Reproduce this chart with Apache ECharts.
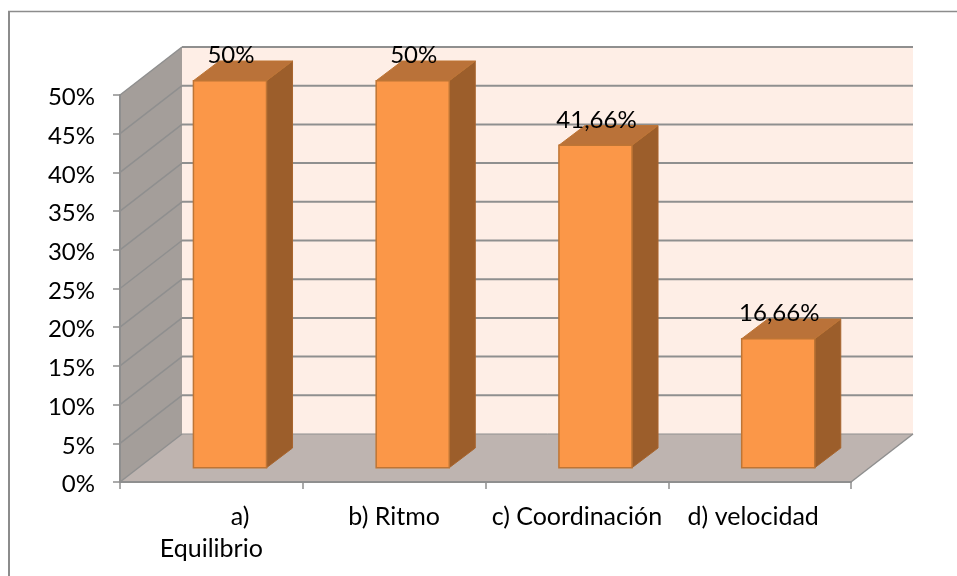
<!DOCTYPE html>
<html><head><meta charset="utf-8">
<style>html,body{margin:0;padding:0;background:#fff}#c{width:957px;height:576px}</style>
<script src="https://cdn.jsdelivr.net/npm/echarts@6/dist/echarts.min.js"></script>
</head><body><div id="c"></div>
<script>
var categories = ['\u00a0\u00a0\u00a0\u00a0\u00a0\u00a0\u00a0\u00a0\u00a0a)\nEquilibrio', 'b) Ritmo', 'c) Coordinación', 'd) velocidad\u00a0\u00a0'];
var values = [50, 50, 41.66, 16.66];
var valueLabels = ['50%', '50%', '41,66%', '16,66%'];
var yTicks = [0, 5, 10, 15, 20, 25, 30, 35, 40, 45, 50];

var FONT = 'Lato';
var DX = 62, DY = -48;           // depth of the chart box
var BAR_DX0 = 18.6, BAR_DY0 = -14.3; // front face of bars within box
var BAR_DX = 26, BAR_DY = -19.7;  // depth of bars
var GRID = '#8f8f8f';

function poly(pts, fill, stroke, w) {
  return {type:'polygon', shape:{points:pts}, style:{fill:fill, stroke:stroke||null, lineWidth:w||0}};
}
function line(pts, w) {
  return {type:'polyline', shape:{points:pts}, style:{fill:null, stroke:GRID, lineWidth:w}};
}
function renderBox(params, api) {
  var c = params.coordSys, x0 = c.x, x1 = c.x + c.width, yB = c.y + c.height, yT = c.y;
  var ch = [];
  ch.push(poly([[x0+DX,yT+DY],[x1+DX,yT+DY],[x1+DX,yB+DY],[x0+DX,yB+DY]], '#FEEEE6'));
  ch.push(poly([[x0,yT],[x0+DX,yT+DY],[x0+DX,yB+DY],[x0,yB]], '#A49E9A'));
  ch.push(poly([[x0,yB],[x1,yB],[x1+DX,yB+DY],[x0+DX,yB+DY]], '#BEB4B0'));
  yTicks.forEach(function (t) {
    var y = api.coord([0, t])[1];
    ch.push(line([[x0,y],[x0+DX,y+DY]], 1.5));
    ch.push(line([[x0+DX,y+DY],[x1+DX,y+DY]], t === 0 ? 1 : 2));
  });
  ch.push(line([[x1,yB],[x1+DX,yB+DY]], 1.5));
  return {type:'group', children:ch};
}
function renderBar(params, api) {
  var idx = api.value(0), v = api.value(1);
  var top = api.coord([idx, v]), base = api.coord([idx, 0]);
  var w = api.size([1, 0])[0] * 0.4;
  var l = top[0] - w/2 + BAR_DX0, r = l + w;
  var t = top[1] + BAR_DY0, b = base[1] + BAR_DY0;
  var edge = '#BE7535';
  return {type:'group', children:[
    poly([[r,t],[r+BAR_DX,t+BAR_DY],[r+BAR_DX,b+BAR_DY],[r,b]], '#9C5E2B', '#A8652E', 1),
    poly([[l,t],[r,t],[r+BAR_DX,t+BAR_DY],[l+BAR_DX,t+BAR_DY]], '#BA7239', '#BE7535', 1),
    poly([[l,t],[r,t],[r,b],[l,b]], '#FB9748', edge, 1.5),
    {type:'text', style:{text:valueLabels[idx], x:(l+r)/2+1, y:t-25, align:'center', verticalAlign:'middle',
      font:'24px '+FONT, fill:'#000'}}
  ]};
}
var chart = echarts.init(document.getElementById('c'), null, {renderer:'canvas'});
chart.setOption({
  animation:false,
  backgroundColor:'#fff',
  grid:{left:120, right:106, top:95, bottom:94},
  graphic:[
    {type:'polyline', shape:{points:[[9,600],[9,11]]}, style:{fill:null, stroke:'#8c8c8c', lineWidth:2}, z:0},
    {type:'polyline', shape:{points:[[8,11.5],[980,11.5]]}, style:{fill:null, stroke:'#8c8c8c', lineWidth:1.5}, z:0}
  ],
  xAxis:{type:'category', data:categories, z:5,
    boundaryGap:true,
    axisLine:{show:true, lineStyle:{color:GRID, width:2}},
    axisTick:{show:true, alignWithLabel:false, length:7, lineStyle:{color:GRID, width:1.5}},
    axisLabel:{interval:0, margin:19, color:'#000', fontFamily:FONT, fontSize:25, lineHeight:32, hideOverlap:false},
    splitLine:{show:false}},
  yAxis:{type:'value', min:0, max:50, interval:5, z:5,
    axisLine:{show:true, lineStyle:{color:GRID, width:2}},
    axisTick:{show:true, length:7, lineStyle:{color:GRID, width:1.5}},
    axisLabel:{margin:25, color:'#000', fontFamily:FONT, fontSize:24, formatter:'{v|{value}%}',
      rich:{v:{color:'#000', fontFamily:FONT, fontSize:24, padding:[5,0,0,0]}}},
    splitLine:{show:false}},
  series:[
    {type:'custom', z:1, silent:true, renderItem:renderBox, data:[[0,0]], clip:false, encode:{x:0,y:1}},
    {type:'custom', z:3, renderItem:renderBar, clip:false, encode:{x:0,y:1},
      data:values.map(function(v,i){return [i,v];})}
  ]
});
</script></body></html>
